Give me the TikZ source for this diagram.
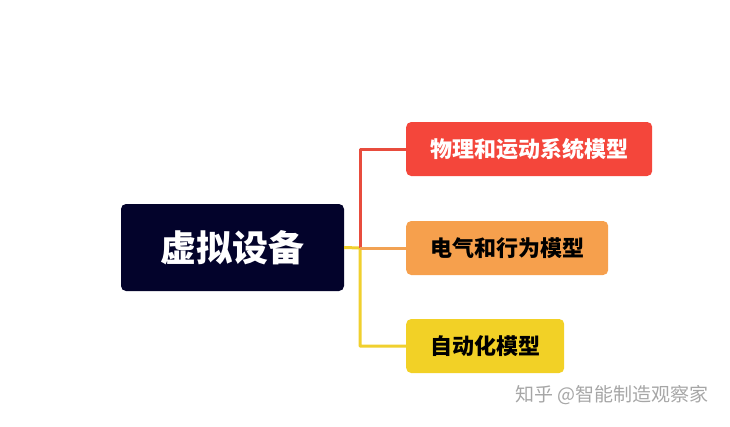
\documentclass[tikz,border=0pt]{standalone}
\usepackage{fontspec}
\setmainfont{Noto Sans CJK SC}
\usetikzlibrary{positioning}
\definecolor{navybox}{HTML}{03032B}
\definecolor{redbox}{HTML}{F4463B}
\definecolor{orangebox}{HTML}{F6A04D}
\definecolor{yellowbox}{HTML}{F2D126}
\definecolor{redline}{HTML}{E84C3D}
\definecolor{orangeline}{HTML}{F2A253}
\definecolor{yellowline}{HTML}{F0D02E}
\begin{document}
\begin{tikzpicture}[x=1pt,y=-1pt,line join=round,
  mainbox/.style={fill=navybox,text=white,rounded corners=5pt,minimum width=223pt,minimum height=87pt,font=\bfseries\fontsize{36}{36}\selectfont},
  leafbox/.style={anchor=west,rounded corners=5pt,minimum height=54pt,inner xsep=24pt,font=\bfseries\fontsize{22}{22}\selectfont},
  branch/.style={line width=3pt}]
\useasboundingbox (0,0) rectangle (730,426);
\node[mainbox](dev) at (232.5,247.5){虚拟设备};
\node[leafbox,fill=redbox,text=white](phy) at (406,149){物理和运动系统模型};
\node[leafbox,fill=orangebox,text=black](ele) at (406,248){电气和行为模型};
\node[leafbox,fill=yellowbox,text=black](aut) at (406,346){自动化模型};
\coordinate(fork) at (360,248);
\draw[branch,yellowline](dev.east)--(fork)|-(aut.west);
\draw[branch,redline](fork)|-(phy.west);
\draw[branch,orangeline](fork)--(ele.west);
\node[text=black!35,font=\fontsize{19}{19}\selectfont](mark) at (612,395){知乎 @智能制造观察家};
\end{tikzpicture}
\end{document}
